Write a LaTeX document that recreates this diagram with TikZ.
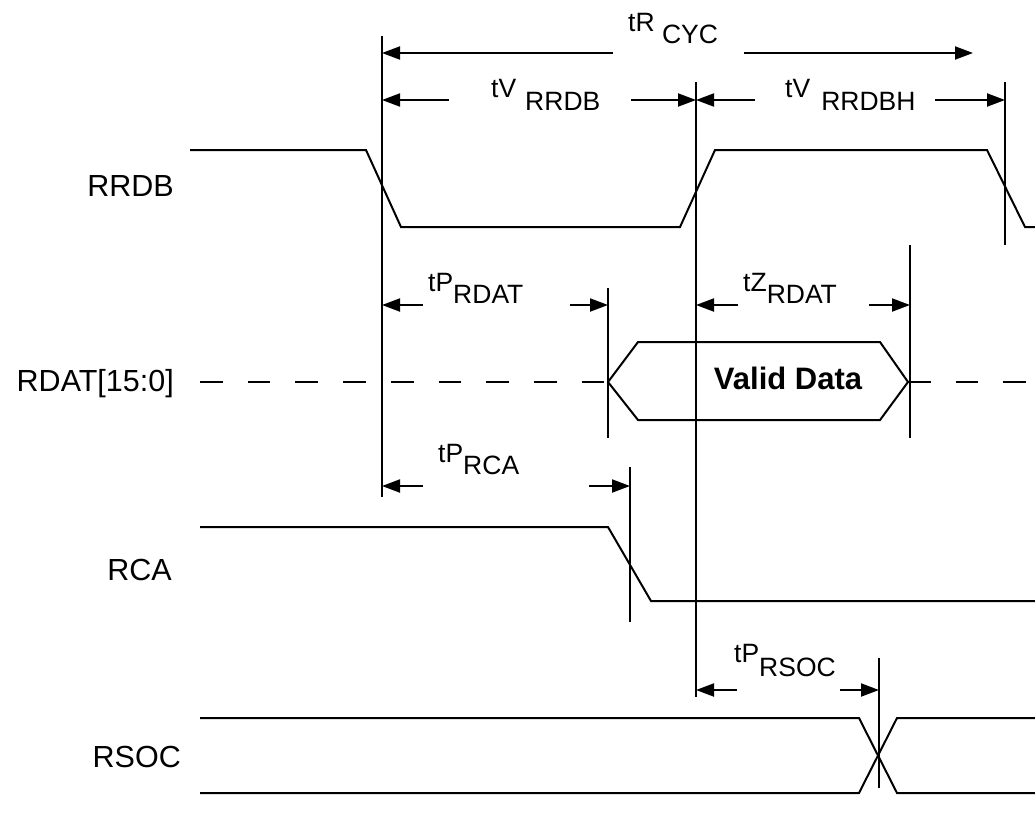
\documentclass[tikz,border=0pt]{standalone}
\usepackage{fontspec}
\setmainfont{Liberation Sans}
\usetikzlibrary{arrows.meta}
\begin{document}
\begin{tikzpicture}[x=1pt,y=-1pt,
  sig/.style={line width=2pt, line join=miter},
  marker/.style={line width=2pt},
  dim/.style={-{Triangle[length=18pt,width=13pt]}, line width=2pt},
  dashsig/.style={line width=2pt, dash pattern=on 22.7pt off 25pt},
  siglabel/.style={font=\fontsize{30.5}{36}\selectfont, inner sep=0pt, anchor=base east},
  tlabel/.style={font=\fontsize{26.5}{31}\selectfont, inner sep=0pt, anchor=base west},
  datalabel/.style={font=\bfseries\fontsize{31}{36}\selectfont, inner sep=0pt, anchor=base}]
\useasboundingbox (0,0) rectangle (1035,814);

% marker lines
\coordinate (v1t) at (382,36);  \coordinate (v1b) at (382,497);
\coordinate (v2t) at (696,82);  \coordinate (v2b) at (696,697);
\coordinate (v3t) at (1005,82); \coordinate (v3b) at (1005,245);
\coordinate (v4t) at (608,288); \coordinate (v4b) at (608,438);
\coordinate (v5t) at (910,245); \coordinate (v5b) at (910,438);
\coordinate (v6t) at (630,467); \coordinate (v6b) at (630,622);
\coordinate (v7t) at (879,658); \coordinate (v7b) at (879,788);
\foreach \v in {v1,v2,v3,v4,v5,v6,v7} \draw[marker] (\v t) -- (\v b);

% signal labels
\node[siglabel] (lRRDB) at (174,196) {RRDB};
\node[siglabel] (lRDAT) at (174,391) {RDAT[15:0]};
\node[siglabel] (lRCA) at (172,580) {RCA};
\node[siglabel] (lRSOC) at (181,767) {RSOC};

% RRDB
\draw[sig] (190,150) -- (366,150) -- (401,227) -- (680,227) -- (715,150) -- (987,150) -- (1025,227) -- (1035,227);

% RDAT
\draw[dashsig] (200,382) -- (606,382);
\draw[sig] (608,382) -- (638,342) -- (880,342) -- (908,382) -- (880,420) -- (638,420) -- cycle;
\draw[dashsig] (908,382) -- (1035,382);
\node[datalabel] (valid) at (788,389) {Valid Data};

% RCA
\draw[sig] (200,527) -- (608,527) -- (651,601) -- (1035,601);

% RSOC
\draw[sig] (200,718) -- (859,718) -- (897,793) -- (1035,793);
\draw[sig] (200,793) -- (859,793) -- (897,718) -- (1035,718);

% dimension arrows
\coordinate (a1) at (613,53);  \coordinate (a1e) at (382,53);
\coordinate (a2) at (744,53);  \coordinate (a2e) at (973,53);
\draw[dim] (a1) -- (a1e);
\draw[dim] (a2) -- (a2e);
\node[tlabel] (tRcyc) at (628,31) {tR \raisebox{-12pt}{CYC}};

\coordinate (b1) at (449,100); \coordinate (b1e) at (382,100);
\coordinate (b2) at (631,100); \coordinate (b2e) at (696,100);
\draw[dim] (b1) -- (b1e);
\draw[dim] (b2) -- (b2e);
\node[tlabel] (tVrrdb) at (491,97) {tV\hspace{9pt}\raisebox{-13pt}{RRDB}};

\coordinate (c1) at (755,100); \coordinate (c1e) at (696,100);
\coordinate (c2) at (935,100); \coordinate (c2e) at (1005,100);
\draw[dim] (c1) -- (c1e);
\draw[dim] (c2) -- (c2e);
\node[tlabel] (tVrrdbh) at (785,97) {tV\hspace{11pt}\raisebox{-13pt}{RRDBH}};

\coordinate (d1) at (423,305); \coordinate (d1e) at (382,305);
\coordinate (d2) at (570,305); \coordinate (d2e) at (608,305);
\draw[dim] (d1) -- (d1e);
\draw[dim] (d2) -- (d2e);
\node[tlabel] (tPrdat) at (428,291) {tP\raisebox{-12pt}{RDAT}};

\coordinate (e1) at (738,305); \coordinate (e1e) at (696,305);
\coordinate (e2) at (869,305); \coordinate (e2e) at (910,305);
\draw[dim] (e1) -- (e1e);
\draw[dim] (e2) -- (e2e);
\node[tlabel] (tZrdat) at (743,291) {tZ\raisebox{-12pt}{RDAT}};

\coordinate (f1) at (423,486); \coordinate (f1e) at (382,486);
\coordinate (f2) at (589,486); \coordinate (f2e) at (630,486);
\draw[dim] (f1) -- (f1e);
\draw[dim] (f2) -- (f2e);
\node[tlabel] (tPrca) at (438,462) {tP\raisebox{-12pt}{RCA}};

\coordinate (g1) at (737,690); \coordinate (g1e) at (696,690);
\coordinate (g2) at (840,690); \coordinate (g2e) at (879,690);
\draw[dim] (g1) -- (g1e);
\draw[dim] (g2) -- (g2e);
\node[tlabel] (tPrsoc) at (734,662) {tP\raisebox{-14pt}{RSOC}};
\end{tikzpicture}
\end{document}
